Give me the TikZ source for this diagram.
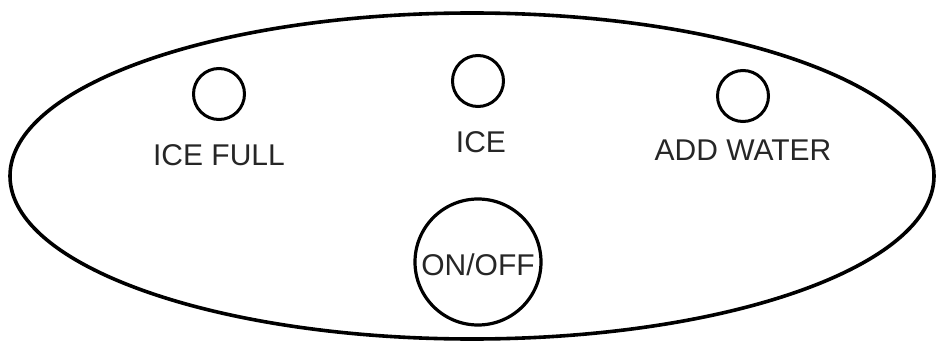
\documentclass[tikz,border=0pt]{standalone}
\usepackage{fontspec}
\setmainfont{Liberation Sans}
\usetikzlibrary{positioning}

\tikzset{
  lamp/.style={circle, draw, line width=3pt, minimum size=51pt, inner sep=0pt},
  caption/.style={anchor=base, inner sep=0pt, text=black!85,
    font=\fontsize{30}{36}\selectfont}
}

\begin{document}
\begin{tikzpicture}[x=1pt, y=-1pt]
    \useasboundingbox (0,0) rectangle (938,345);

    % Panel outline
    \draw[line width=3.6pt] (472,176) ellipse [x radius=462, y radius=163];

    % Indicator lamps
    \node[lamp] (icefull) at (219,94) {};
    \node[lamp] (ice) at (478,81) {};
    \node[lamp] (addwater) at (743,96) {};

    % Labels
    \node[caption] (icefulltext) at (219,165) {ICE FULL};
    \node[caption] (icetext) at (481,152) {ICE};
    \node[caption] (addwatertext) at (743,160) {ADD WATER};

    % Power button
    \node[lamp, minimum size=126pt, line width=3.2pt] (onoff) at (478,262) {};
    \node[caption] (onofftext) at (478,275) {ON/OFF};

\end{tikzpicture}
\end{document}
